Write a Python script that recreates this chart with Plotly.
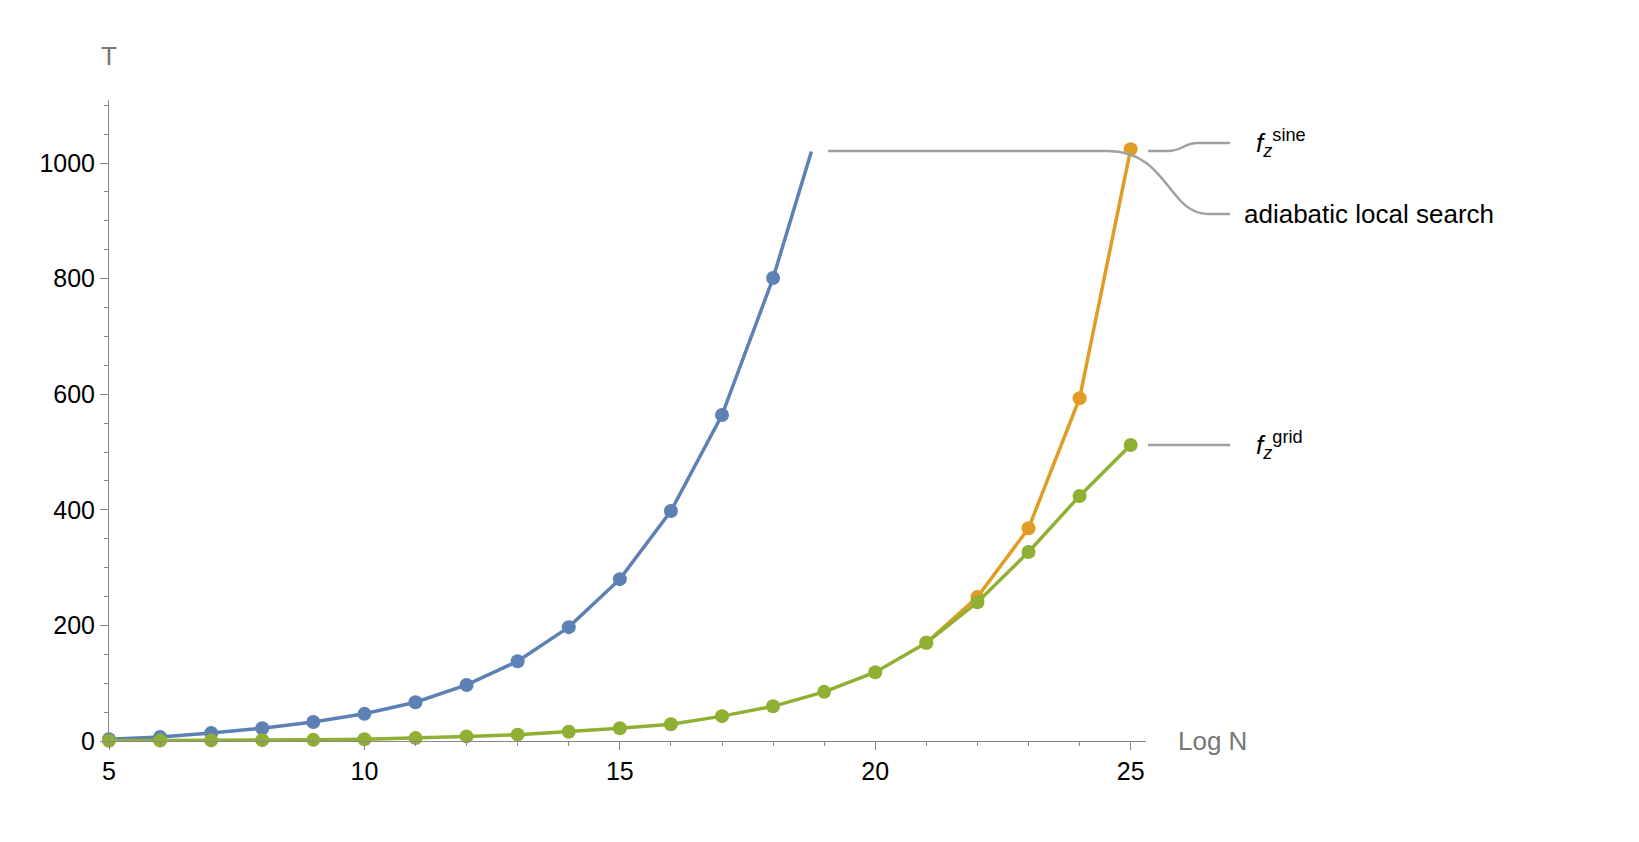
import plotly.graph_objects as go

x_blue = list(range(5, 19))
y_blue = [3, 7, 14, 22, 33, 47, 67, 97, 138, 197, 280, 398, 564, 801]
x_blue_end = [18, 18.75]
y_blue_end = [801, 1020]
x_orange = [22, 23, 24, 25]
y_orange = [249, 368, 593, 1024]
x_green = list(range(5, 26))
y_green = [0.5, 0.7, 1, 1.5, 2, 3, 5, 8, 11, 16, 22, 29, 43, 60, 85, 119, 170, 240, 327, 424, 512]

BLUE, ORANGE, GREEN = "#5E81B5", "#E19C24", "#8FB032"
fig = go.Figure()
fig.add_trace(go.Scatter(x=x_blue_end, y=y_blue_end, mode="lines", line=dict(color=BLUE, width=3.5), cliponaxis=False))
fig.add_trace(go.Scatter(x=x_blue, y=y_blue, mode="lines+markers", line=dict(color=BLUE, width=3.5), marker=dict(size=14, color=BLUE), cliponaxis=False))
fig.add_trace(go.Scatter(x=[21] + x_orange, y=[170] + y_orange, mode="lines+markers", line=dict(color=ORANGE, width=3.5), marker=dict(size=14, color=ORANGE), cliponaxis=False))
fig.add_trace(go.Scatter(x=x_green, y=y_green, mode="lines+markers", line=dict(color=GREEN, width=3.5), marker=dict(size=14, color=GREEN), cliponaxis=False))

L, T, R, B = 101, 92, 1138, 733
W, H = R - L, B - T
def px(x): return (x - L) / W
def py(y): return (B - y) / H

gray = "#A0A0A0"
path = (f"M {px(820)},{py(143)} L {px(1100)},{py(143)} "
        f"C {px(1160)},{py(143)} {px(1160)},{py(206)} {px(1200)},{py(206)} L {px(1222)},{py(206)}")
shapes = [
    dict(type="path", path=path, xref="paper", yref="paper", line=dict(color=gray, width=2.5)),
    dict(type="path", path=f"M {px(1140)},{py(143)} L {px(1160)},{py(143)} C {px(1175)},{py(143)} {px(1175)},{py(135)} {px(1190)},{py(135)} L {px(1222)},{py(135)}",
         xref="paper", yref="paper", line=dict(color=gray, width=2.5)),
    dict(type="line", x0=px(1140), x1=px(1222), y0=py(437), y1=py(437), xref="paper", yref="paper", line=dict(color=gray, width=2.5)),
]
def A(x, y, text, anchor="left", color="black"):
    return dict(x=px(x), y=py(y), xref="paper", yref="paper", text=text, showarrow=False,
                xanchor=anchor, yanchor="middle", font=dict(size=26, color=color))
ann = [
    A(1246, 135, "<i>f</i><sub><i>z</i></sub><sup>sine</sup>"),
    A(1234, 206, "adiabatic local search"),
    A(1246, 437, "<i>f</i><sub><i>z</i></sub><sup>grid</sup>"),
    A(1168, 733, "Log N", color="#777"),
    A(101, 48, "T", anchor="center", color="#777"),
]
fig.update_layout(
    width=1639, height=842, plot_bgcolor="white", paper_bgcolor="white", showlegend=False,
    margin=dict(l=L, r=1639 - R, t=T, b=842 - B),
    font=dict(family="Liberation Sans, Arial", color="black"),
    shapes=shapes, annotations=ann,
    xaxis=dict(range=[5, 25.3], tickvals=[5, 10, 15, 20, 25], showgrid=False, zeroline=False,
               showline=True, linecolor="#888", ticks="outside", ticklen=8, tickcolor="#888",
               tickfont=dict(size=25), minor=dict(dtick=1, ticks="outside", ticklen=4, tickcolor="#888")),
    yaxis=dict(range=[0, 1109], tickvals=[0, 200, 400, 600, 800, 1000], showgrid=False, zeroline=False,
               showline=True, linecolor="#888", ticks="outside", ticklen=8, tickcolor="#888",
               tickfont=dict(size=25), minor=dict(dtick=50, ticks="outside", ticklen=4, tickcolor="#888")),
)
fig.write_html("out.html")
